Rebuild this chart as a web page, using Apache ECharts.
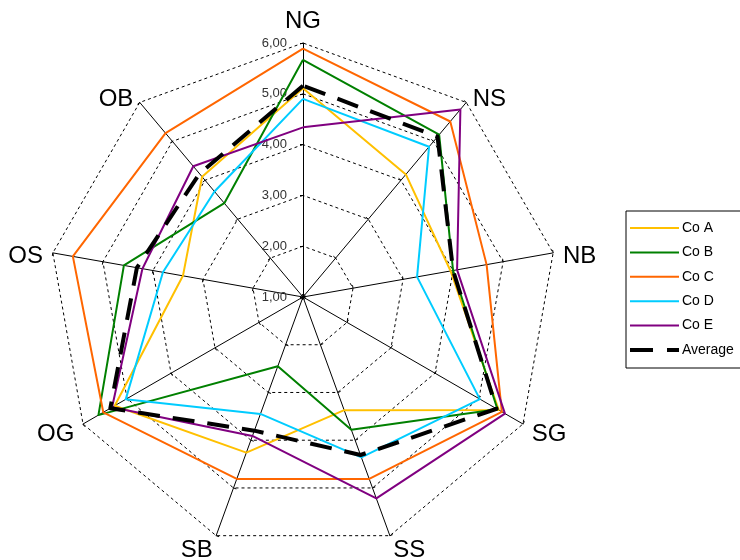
<!DOCTYPE html>
<html>
<head>
<meta charset="utf-8">
<script src="https://cdn.jsdelivr.net/npm/echarts@6/dist/echarts.min.js"></script>
<style>
  html, body { margin: 0; padding: 0; background: #fff; }
  #chart { width: 740px; height: 560px; }
</style>
</head>
<body>
<div id="chart"></div>
<script>
// Axes in clockwise order starting at the top
var axes = ['NG', 'NS', 'NB', 'SG', 'SS', 'SB', 'OG', 'OS', 'OB'];

var coA = [5.11, 4.15, 3.95, 5.45, 3.37, 4.26, 5.28, 3.40, 4.09];
var coB = [5.67, 5.17, 4.00, 5.42, 3.78, 2.45, 5.65, 4.58, 3.41];
var coC = [5.89, 5.51, 4.67, 5.52, 4.81, 4.81, 5.54, 5.60, 5.21];
var coD = [4.90, 4.86, 3.28, 5.02, 4.36, 3.45, 5.03, 3.80, 3.71];
var coE = [4.34, 5.82, 4.08, 5.59, 5.22, 3.91, 5.34, 4.21, 4.36];
var average = [5.16, 5.12, 4.00, 5.40, 4.31, 3.80, 5.38, 4.32, 4.17];

var seriesNames = ['Co A', 'Co B', 'Co C', 'Co D', 'Co E', 'Average'];
var seriesValues = [coA, coB, coC, coD, coE, average];
var seriesColors = ['#FFC000', '#008000', '#FF6600', '#00CCFF', '#800080', '#000000'];

var scaleMin = 1, scaleMax = 6;

// The radar lays indicators out counter-clockwise, so keep the first one
// at the top and reverse the rest to read clockwise.
var order = [0].concat(axes.map(function (_, i) { return i; }).slice(1).reverse());

var FONT = 'Liberation Sans, Arial, sans-serif';

var indicators = order.map(function (idx, k) {
  var ind = { name: axes[idx], min: scaleMin, max: scaleMax };
  if (k === 0) {
    ind.axisLabel = {
      show: true,
      showMinLabel: true,
      showMaxLabel: true,
      margin: 16,
      color: '#333',
      fontSize: 13,
      fontFamily: FONT,
      formatter: function (v) { return v.toFixed(2).replace('.', ','); }
    };
  }
  return ind;
});

var solidIcon = 'path://M0,0h49v2h-49z';
var dashIcon = 'path://M0,0h23v4h-23z M37,0h12v4h-12z';

var series = seriesNames.map(function (name, s) {
  var isAvg = name === 'Average';
  return {
    type: 'radar',
    name: name,
    symbol: 'none',
    silent: true,
    z: isAvg ? 3 : 2,
    lineStyle: {
      color: seriesColors[s],
      width: isAvg ? 4 : 2,
      type: isAvg ? [22, 13] : 'solid',
      opacity: 1
    },
    itemStyle: { color: seriesColors[s] },
    data: [{ name: name, value: order.map(function (idx) { return seriesValues[s][idx]; }) }]
  };
});

var chart = echarts.init(document.getElementById('chart'), null, { renderer: 'canvas' });
chart.setOption({
  animation: false,
  backgroundColor: '#fff',
  radar: {
    center: [303, 297],
    radius: 254,
    startAngle: 90,
    shape: 'polygon',
    splitNumber: 5,
    axisNameGap: 10,
    axisName: {
      color: '#000',
      fontSize: 24,
      fontFamily: FONT,
      formatter: function (name) { return '{n|' + name + '}'; },
      rich: { n: { color: '#000', fontSize: 24, fontFamily: FONT, padding: [10, 0, 0, 0] } }
    },
    splitLine: { lineStyle: { color: '#000', width: 1, type: [3, 3] } },
    splitArea: { show: false },
    axisLine: { lineStyle: { color: '#000', width: 1 } },
    axisTick: { show: true, length: 3, lineStyle: { color: '#000' } },
    axisLabel: { show: false },
    indicator: indicators
  },
  legend: {
    orient: 'vertical',
    left: 626,
    top: 211,
    padding: [10, 30, 11, 4],
    borderColor: '#000',
    borderWidth: 1,
    borderRadius: 0,
    itemWidth: 49,
    itemHeight: 14,
    itemGap: 10.4,
    selectedMode: false,
    textStyle: { color: '#000', fontSize: 14, fontFamily: FONT, padding: [0, 0, 0, -2] },
    itemStyle: { borderWidth: 0 },
    data: seriesNames.map(function (n, s) {
      return { name: n, icon: n === 'Average' ? dashIcon : solidIcon, itemStyle: { color: seriesColors[s], borderWidth: 0 } };
    })
  },
  series: series
});
</script>
</body>
</html>
